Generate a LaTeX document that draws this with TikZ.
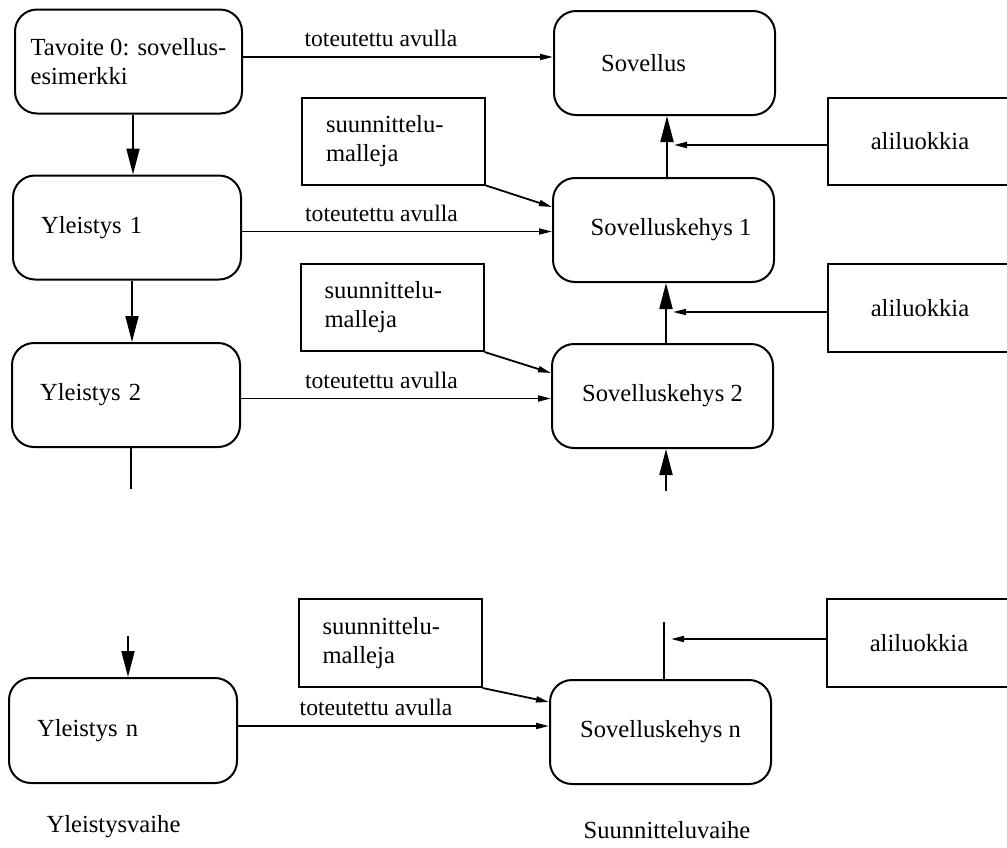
\documentclass[tikz,border=0pt]{standalone}
\usepackage{fontspec}
\setmainfont{Liberation Serif}
\usetikzlibrary{arrows.meta,calc}
\begin{document}
\begin{tikzpicture}[x=1pt,y=-1pt,
  every node/.style={font=\fontsize{24.6}{29}\selectfont},
  rbox/.style={draw, line width=2pt, rounded corners=22pt, minimum height=104pt, inner sep=0pt},
  lbox/.style={rbox, inner xsep=28pt, text width=172pt, align=left},
  kbox/.style={rbox, minimum width=221pt},
  sbox/.style={draw, line width=2pt, minimum height=87pt, inner ysep=0pt, inner xsep=24pt, text width=135pt, align=left},
  abox/.style={draw, line width=2pt, minimum width=184pt, minimum height=87pt},
  flow/.style={line width=2pt, -{Triangle[length=26pt,width=13pt]}},
  plain/.style={line width=2pt},
  impl/.style={line width=1.8pt, -{Triangle[length=13pt,width=6pt]}},
  lbl/.style={font=\fontsize{23.6}{28}\selectfont, inner sep=0pt, above=9pt}
]
\useasboundingbox (0,0) rectangle (1007,847);
\clip (0,0) rectangle (1007,847);

% left column
\node[rbox, minimum width=227pt, align=left] (t0) at (128.5,61.5) {Tavoite 0: sovellus-\\esimerkki};
\node[lbox] (y1) at (127,227.5) {Yleistys 1};
\node[lbox] (y2) at (126,395) {Yleistys 2};
\node[lbox, minimum height=105pt] (yn) at (123,730.5) {Yleistys n};

% right column
\node[kbox] (sov) at (664.5,63) {Sovellus\hspace*{42pt}};
\node[kbox] (sk1) at (663.5,230) {\hspace*{15pt}Sovelluskehys 1};
\node[kbox] (sk2) at (662.5,396) {Sovelluskehys 2};
\node[kbox] (skn) at (660.5,732) {Sovelluskehys n};

% design pattern boxes
\node[sbox] (s1) at (393.5,141) {suunnittelu-\\malleja};
\node[sbox] (s2) at (392,307.5) {suunnittelu-\\malleja};
\node[sbox, minimum height=88pt] (s3) at (390,643) {suunnittelu-\\malleja};

% subclass boxes
\node[abox] (a1) at (920,141) {aliluokkia};
\node[abox, minimum height=88pt] (a2) at (920,308) {aliluokkia};
\node[abox, minimum height=88pt] (a3) at (919,643) {aliluokkia};

% phase labels
\node (ylv) at (113.5,827) {Yleistysvaihe};
\node (suv) at (667,830) {Suunnitteluvaihe};

% left flow
\draw[flow] ($(t0.south)+(4.5,0)$) -- ($(t0.south |- y1.north)+(4.5,0)$);
\draw[flow] ($(y1.south)+(5,0)$) -- ($(y1.south |- y2.north)+(5,0)$);
\coordinate (ycut) at ($(y2.south)+(5,41)$);
\draw[plain] ($(y2.south)+(5,0)$) -- (ycut);
\coordinate (yresume) at ($(yn.north)+(5,-41)$);
\draw[flow] (yresume) -- ($(yn.north)+(5,0)$);

% right flow
\draw[flow] ($(sk1.north)+(3.5,0)$) -- ($(sk1.north |- sov.south)+(3.5,0)$);
\draw[flow] ($(sk2.north)+(3.5,0)$) -- ($(sk2.north |- sk1.south)+(3.5,0)$);
\coordinate (kresume) at ($(sk2.south)+(3.5,42)$);
\draw[flow] (kresume) -- ($(sk2.south)+(3.5,0)$);
\coordinate (kcut) at ($(skn.north)+(3.5,-57)$);
\draw[plain] ($(skn.north)+(3.5,0)$) -- (kcut);

% subclass arrows
\draw[impl] ($(a1.west)+(0,4)$) -- ($(a1.west -| sk1.north)+(10.5,4)$);
\draw[impl] ($(a2.west)+(0,4)$) -- ($(a2.west -| sk2.north)+(10.5,4)$);
\draw[impl] ($(a3.west)+(0,-4)$) -- ($(a3.west -| skn.north)+(10.5,-4)$);

% implemented-with arrows
\draw[impl] ($(t0.east)+(0,-4.5)$) -- ($(t0.east -| sov.west)+(0,-4.5)$) node[lbl, pos=0.445] (l0) {toteutettu avulla};
\draw[impl] ($(y1.east)+(0,4)$) -- ($(y1.east -| sk1.west)+(0,4)$) node[lbl, pos=0.45] (l1) {toteutettu avulla};
\draw[impl] ($(y2.east)+(0,3.5)$) -- ($(y2.east -| sk2.west)+(0,3.5)$) node[lbl, pos=0.453] (l2) {toteutettu avulla};
\draw[impl] ($(yn.east)+(0,-4.5)$) -- ($(yn.east -| skn.west)+(0,-4.5)$) node[lbl, pos=0.444] (ln) {toteutettu avulla};

% pattern arrows
\draw[impl] (s1.south east) -- ($(sk1.west)+(0,-23)$);
\draw[impl] (s2.south east) -- ($(sk2.west)+(0,-23)$);
\draw[impl] (s3.south east) -- ($(skn.west)+(0,-30)$);
\end{tikzpicture}
\end{document}
